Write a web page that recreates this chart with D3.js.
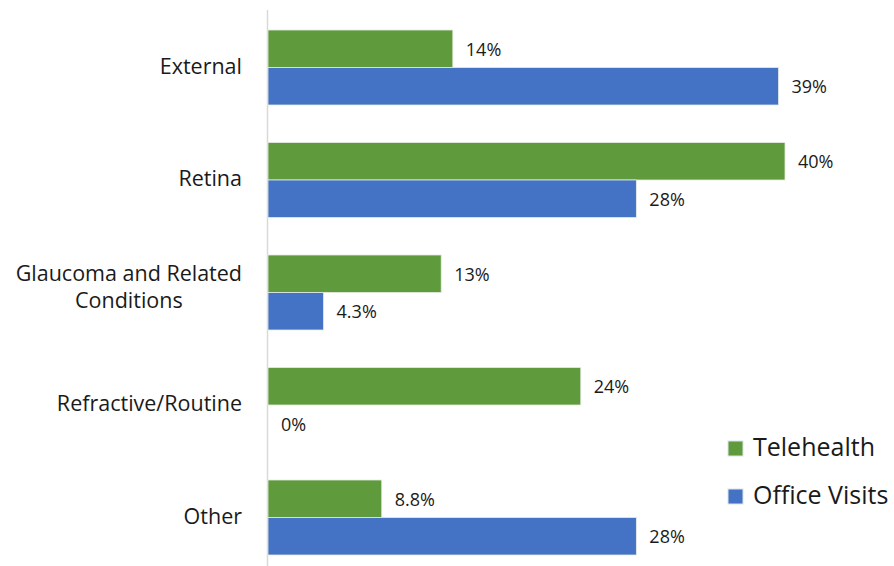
<!DOCTYPE html>
<html><head><meta charset="utf-8">
<script src="https://cdn.jsdelivr.net/npm/d3@7"></script>
<style>body{margin:0;background:#fff;}svg{display:block;font-family:"Open Sans",sans-serif;}</style>
</head><body>
<svg id="chart" width="894" height="566"></svg>
<script>
const categories = ["External", "Retina", "Glaucoma and Related Conditions", "Refractive/Routine", "Other"];
const categoryLines = [["External"], ["Retina"], ["Glaucoma and Related", "Conditions"], ["Refractive/Routine"], ["Other"]];
const seriesNames = ["Telehealth", "Office Visits"];
const telehealth = [14.3, 40.0, 13.4, 24.2, 8.8];
const officeVisits = [39.5, 28.5, 4.3, 0, 28.5];
const telehealthLabels = ["14%", "40%", "13%", "24%", "8.8%"];
const officeLabels = ["39%", "28%", "4.3%", "0%", "28%"];
const colors = ["#5f9a3c", "#4472c4"];

const svg = d3.select("#chart");
const x = d3.scaleLinear().domain([0, 40]).range([268, 785]);
const y = d3.scaleBand().domain(categories).range([11.25, 573.75]).paddingInner(1/3).paddingOuter(1/6);
const ys = d3.scaleBand().domain(seriesNames).range([0, y.bandwidth()]);

const series = [
  {name: seriesNames[0], values: telehealth, labels: telehealthLabels, color: colors[0]},
  {name: seriesNames[1], values: officeVisits, labels: officeLabels, color: colors[1]}
];

// axis line
const ax = svg.append("g").attr("transform", "translate(267.5,0)")
  .call(d3.axisLeft(y).tickSize(0).tickFormat(""));
ax.select(".domain").attr("stroke", "#d9d9d9").attr("stroke-width", 1.5).attr("d", "M0,10V566");

series.forEach(s => {
  const g = svg.append("g");
  g.selectAll("rect").data(categories).join("rect")
    .attr("x", x(0))
    .attr("y", (c) => y(c) + ys(s.name))
    .attr("width", (c, i) => x(s.values[i]) - x(0))
    .attr("height", ys.bandwidth())
    .attr("fill", s.color)
    .attr("stroke", "#e6ece2").attr("stroke-width", (c, i) => s.values[i] > 0 ? 0.8 : 0);
  g.selectAll("text").data(categories).join("text")
    .attr("x", (c, i) => x(s.values[i]) + 13)
    .attr("y", (c) => y(c) + ys(s.name) + ys.bandwidth() / 2 + 7)
    .attr("font-size", 18).attr("fill", "#1a1a1a")
    .text((c, i) => s.labels[i]);
});

// category labels
categories.forEach((c, i) => {
  const lines = categoryLines[i];
  const n = lines.length;
  const cy = y(c) + y.bandwidth() / 2;
  const t = svg.append("text").attr("font-size", 21.5).attr("fill", "#1a1a1a");
  const spans = lines.map((ln, j) => t.append("tspan").attr("y", cy + 6 - (n - 1) * 17.5 + j * 27).text(ln));
  if (n === 1) {
    t.attr("text-anchor", "end");
    spans[0].attr("x", 242);
  } else {
    const w = d3.max(spans, sp => sp.node().getComputedTextLength());
    t.attr("text-anchor", "middle");
    spans.forEach(sp => sp.attr("x", 242 - w / 2));
  }
});

// legend
const leg = svg.append("g");
series.forEach((s, i) => {
  const ly = 441 + i * 48;
  leg.append("rect").attr("x", 728).attr("y", ly).attr("width", 15).attr("height", 15)
    .attr("fill", s.color).attr("stroke", "#dde3ea").attr("stroke-width", 1);
  leg.append("text").attr("x", 753).attr("y", ly + 15).attr("font-size", 25).attr("fill", "#1a1a1a").text(s.name);
});
</script>
</body></html>
